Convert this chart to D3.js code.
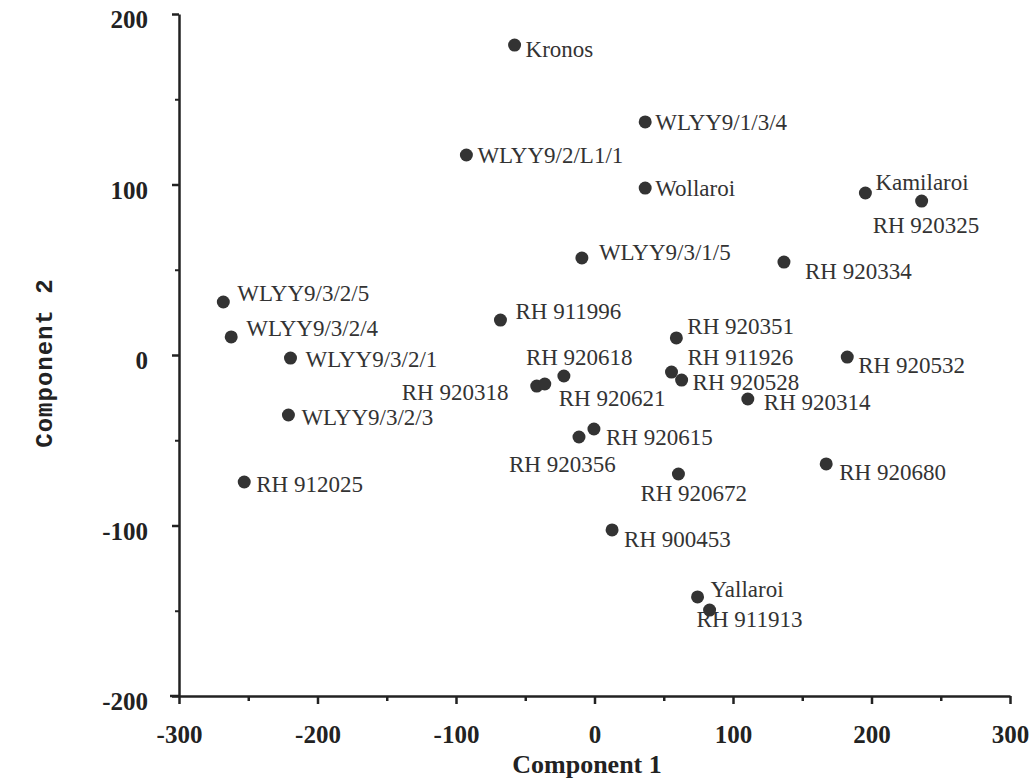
<!DOCTYPE html>
<html lang="en">
    <head>
        <meta charset="utf-8">
        <title>Component 1 vs Component 2</title>
        <script type="text/javascript" src="https://d3js.org/d3.v7.min.js"></script>
        <style type="text/css">
            body { margin: 0; background: #fff; }
        </style>
    </head>
    <body>
        <script type="text/javascript">

        // data
        const names = ["Kronos", "WLYY9/1/3/4", "WLYY9/2/L1/1", "Wollaroi", "Kamilaroi", "RH 920325",
            "WLYY9/3/1/5", "RH 920334", "WLYY9/3/2/5", "WLYY9/3/2/4", "RH 911996", "RH 920351",
            "WLYY9/3/2/1", "RH 920532", "RH 920618", "RH 920318", "RH 920621", "RH 911926",
            "RH 920528", "RH 920314", "WLYY9/3/2/3", "RH 920615", "RH 920356", "RH 920672",
            "RH 920680", "RH 912025", "RH 900453", "Yallaroi", "RH 911913"];
        const comp1 = [-57.7, 36.6, -92.5, 36.6, 195.6, 236.2,
            -9.1, 136.8, -268, -262.3, -67.9, 59.1,
            -219.5, 182.5, -22.1, -41.7, -35.9, 55.6,
            62.9, 110.7, -221, -0.4, -11.2, 60.6,
            167.3, -252.9, 12.7, 74.4, 83.1];
        const comp2 = [181.8, 136.7, 117.3, 97.9, 95.0, 90.3,
            56.9, 54.5, 31.1, 10.6, 20.5, 10.0,
            -1.8, -1.2, -12.3, -18.2, -17.0, -10.0,
            -14.7, -25.8, -35.2, -43.4, -48.1, -69.8,
            -63.9, -74.5, -102.6, -141.9, -149.6];
        const xMajor = [-300, -200, -100, 0, 100, 200, 300];
        const xMinor = [-250, -150, -50, 50, 150, 250];
        const yMajor = [-200, -100, 0, 100, 200];
        const yMinor = [-150, -50, 50, 150];

        // where each label sits relative to its dot (layout only)
        const labelOffset = {
            "Kronos": [11, 4], "WLYY9/1/3/4": [10, 0], "WLYY9/2/L1/1": [11, 0], "Wollaroi": [10, 0],
            "Kamilaroi": [10, -11], "RH 920325": [-49, 24], "WLYY9/3/1/5": [17, -6], "RH 920334": [21, 9],
            "WLYY9/3/2/5": [14, -9], "WLYY9/3/2/4": [15, -9], "RH 911996": [15, -9], "RH 920351": [11, -12],
            "WLYY9/3/2/1": [15, 1], "RH 920532": [11, 8], "RH 920618": [-38, -19], "RH 920318": [-135, 6],
            "RH 920621": [14, 14], "RH 911926": [16, -15], "RH 920528": [11, 2], "RH 920314": [16, 3],
            "WLYY9/3/2/3": [13, 2], "RH 920615": [12, 8], "RH 920356": [-70, 27], "RH 920672": [-38, 19],
            "RH 920680": [13, 8], "RH 912025": [12, 2], "RH 900453": [12, 9], "Yallaroi": [13, -8],
            "RH 911913": [-13, 9]
        };

        const width = 1033;
        const height = 782;
        const ink = "#222";
        const serif = "'Liberation Serif', 'Times New Roman', serif";
        const fmt = d => String(d); // plain hyphen, as in the original

        const points = names.map((n, i) => ({name: n, c1: comp1[i], c2: comp2[i]}));

        const xScale = d3.scaleLinear().domain([-300, 300]).range([179, 1010]);
        const yScale = d3.scaleLinear().domain([-200, 200]).range([696, 14]);

        const svg = d3.select("body")
                    .append("svg")
                    .attr("width", width)
                    .attr("height", height)
                    .style("background-color", "#fff");

        // bottom axis
        svg.append("g")
            .attr("transform", "translate(0," + yScale(-200) + ")")
            .call(d3.axisBottom(xScale).tickValues(xMajor).tickFormat(fmt).tickSize(8).tickSizeOuter(0).tickPadding(21))
            .call(g => g.selectAll("path, line").attr("stroke", ink).attr("stroke-width", 2.5))
            .call(g => g.selectAll("text")
                .style("font-family", serif)
                .style("font-weight", "bold")
                .style("font-size", "25px")
                .attr("fill", ink));

        svg.append("g")
            .attr("transform", "translate(0," + yScale(-200) + ")")
            .call(d3.axisBottom(xScale).tickValues(xMinor).tickSize(5).tickFormat(""))
            .call(g => g.select(".domain").remove())
            .call(g => g.selectAll("line").attr("stroke", ink).attr("stroke-width", 2.5));

        // little overhang of the x axis to the left
        svg.append("line")
            .attr("x1", xScale(-300) - 9).attr("x2", xScale(-300))
            .attr("y1", yScale(-200)).attr("y2", yScale(-200))
            .attr("stroke", ink).attr("stroke-width", 2.5);

        // left axis
        svg.append("g")
            .attr("transform", "translate(" + xScale(-300) + ",0)")
            .call(d3.axisLeft(yScale).tickValues(yMajor).tickFormat(fmt).tickSize(7).tickSizeOuter(0).tickPadding(24))
            .call(g => g.selectAll("path, line").attr("stroke", ink).attr("stroke-width", 2.5))
            .call(g => g.selectAll("text")
                .attr("dy", "0.55em")
                .style("font-family", serif)
                .style("font-weight", "bold")
                .style("font-size", "25px")
                .attr("fill", ink));

        svg.append("g")
            .attr("transform", "translate(" + xScale(-300) + ",0)")
            .call(d3.axisLeft(yScale).tickValues(yMinor).tickSize(4).tickFormat(""))
            .call(g => g.select(".domain").remove())
            .call(g => g.selectAll("line").attr("stroke", ink).attr("stroke-width", 2));

        // axis titles
        svg.append("text")
            .attr("x", 587)
            .attr("y", 773)
            .attr("text-anchor", "middle")
            .style("font-family", serif)
            .style("font-weight", "bold")
            .style("font-size", "26px")
            .attr("fill", ink)
            .text("Component 1");

        svg.append("text")
            .attr("transform", "translate(45,363) rotate(-90)")
            .attr("text-anchor", "middle")
            .attr("dominant-baseline", "central")
            .style("font-family", "'Liberation Mono', 'Courier New', monospace")
            .style("font-weight", "bold")
            .style("font-size", "24px")
            .style("letter-spacing", "1px")
            .attr("fill", ink)
            .text("Component 2");

        // dots
        svg.selectAll("circle.pt")
            .data(points)
            .enter()
            .append("circle")
            .attr("class", "pt")
            .attr("cx", d => xScale(d.c1))
            .attr("cy", d => yScale(d.c2))
            .attr("r", 6.5)
            .attr("fill", "#333");

        // labels
        svg.selectAll("text.lbl")
            .data(points)
            .enter()
            .append("text")
            .attr("class", "lbl")
            .attr("x", d => xScale(d.c1) + labelOffset[d.name][0])
            .attr("y", d => yScale(d.c2) + labelOffset[d.name][1])
            .attr("dy", "0.35em")
            .style("font-family", serif)
            .style("font-size", "23px")
            .attr("fill", "#333")
            .text(d => d.name);

        </script>
    </body>
</html>
